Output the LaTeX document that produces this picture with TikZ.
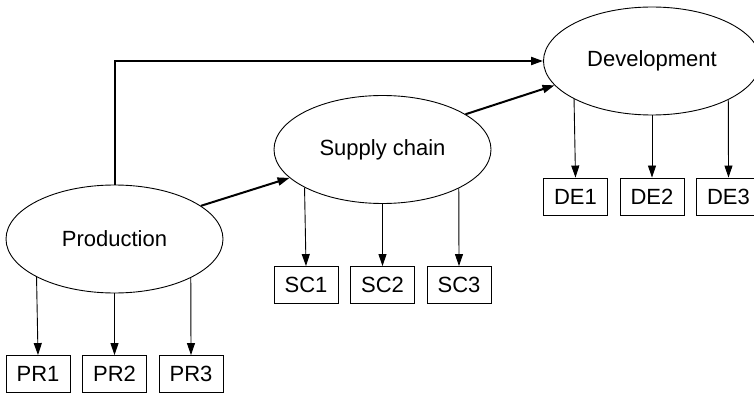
\documentclass[tikz,border=0pt]{standalone}
\usepackage{fontspec}
\setmainfont{Liberation Sans}
\usetikzlibrary{shapes.geometric,arrows.meta}

\tikzset{
  area/.style={ellipse,draw,line width=0.9pt,minimum width=217pt,minimum height=108pt,inner sep=0pt},
  item/.style={rectangle,draw,line width=0.9pt,minimum width=64pt,minimum height=37pt,inner sep=0pt},
  thin/.style={->,line width=0.9pt},
  thick/.style={->,line width=2pt}
}

\begin{document}
\begin{tikzpicture}[x=1pt,y=1pt,>={Triangle[length=12pt,width=8pt]},font=\fontsize{22}{26}\selectfont]
		\useasboundingbox (0,0) rectangle (754,394);
		%Ellipses
		\node[area] (prod) at (114.5,155) {Production};
		\node[area] (supply) at (382.5,244.5) {Supply chain};
		\node[area] (dev) at (652,333) {Development};
		%Boxes
		\node[item] (pr1) at (38,20) {PR1};
		\node[item] (pr2) at (114.5,20) {PR2};
		\node[item] (pr3) at (191,20) {PR3};
		\node[item] (sc1) at (306,109) {SC1};
		\node[item] (sc2) at (382.5,109) {SC2};
		\node[item] (sc3) at (459,109) {SC3};
		\node[item] (de1) at (575.5,197.5) {DE1};
		\node[item] (de2) at (652,197.5) {DE2};
		\node[item] (de3) at (728.5,197.5) {DE3};
		%Arrows down
		\draw[thin] (prod.206.6) -- (pr1.north);
		\draw[thin] (prod.south) -- (pr2.north);
		\draw[thin] (prod.333.4) -- (pr3.north);
		\draw[thin] (supply.206.6) -- (sc1.north);
		\draw[thin] (supply.south) -- (sc2.north);
		\draw[thin] (supply.333.4) -- (sc3.north);
		\draw[thin] (dev.206.6) -- (de1.north);
		\draw[thin] (dev.south) -- (de2.north);
		\draw[thin] (dev.333.4) -- (de3.north);
		%Arrows between areas
		\draw[thick] (prod.21.2) -- (supply.197.2);
		\draw[thick] (supply.23.3) -- (dev.194.5);
		\draw[thick] (prod.north) |- (dev.west);
\end{tikzpicture}
\end{document}
